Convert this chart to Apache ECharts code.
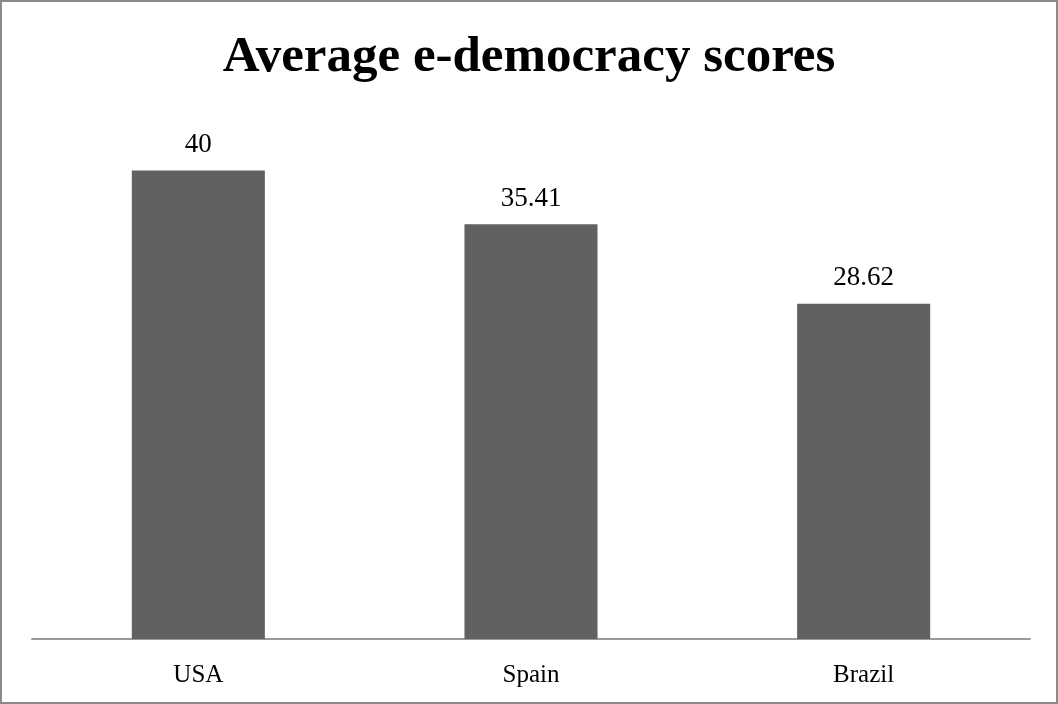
<!DOCTYPE html>
<html>
<head>
<meta charset="utf-8">
<script src="https://cdn.jsdelivr.net/npm/echarts@6/dist/echarts.min.js"></script>
<style>
  html, body { margin: 0; padding: 0; background: #fff; }
  #chart { width: 1058px; height: 704px; }
</style>
</head>
<body>
<div id="chart"></div>
<script>
// Average e-democracy scores by country
const countries = ['USA', 'Spain', 'Brazil'];
const scores = [40, 35.41, 28.62];
const chartTitle = 'Average e-democracy scores';

const serif = '"Liberation Serif", "DejaVu Serif", serif';

const chart = echarts.init(document.getElementById('chart'));
chart.setOption({
  animation: false,
  backgroundColor: '#ffffff',
  title: {
    text: chartTitle,
    left: 'center',
    top: 27,
    textStyle: { fontFamily: serif, fontWeight: 'bold', fontSize: 51, color: '#000' }
  },
  graphic: [{
    type: 'rect',
    shape: { x: 1, y: 1, width: 1056, height: 702 },
    style: { fill: 'none', stroke: '#8a8a8a', lineWidth: 2 },
    silent: true
  }],
  grid: { left: 32, right: 28, top: 112, bottom: 65 },
  xAxis: {
    type: 'category',
    data: countries,
    axisLine: { lineStyle: { color: '#9a9a9a', width: 2 } },
    axisTick: { show: false },
    axisLabel: { fontFamily: serif, fontSize: 25, color: '#000', margin: 24 }
  },
  yAxis: {
    type: 'value',
    min: 0,
    max: 45,
    show: false,
    splitLine: { show: false }
  },
  series: [{
    type: 'bar',
    data: scores,
    barWidth: '40%',
    itemStyle: { color: '#616161' },
    label: {
      show: true,
      position: 'top',
      distance: 12,
      fontFamily: serif,
      fontSize: 27,
      color: '#000'
    }
  }]
});
</script>
</body>
</html>
